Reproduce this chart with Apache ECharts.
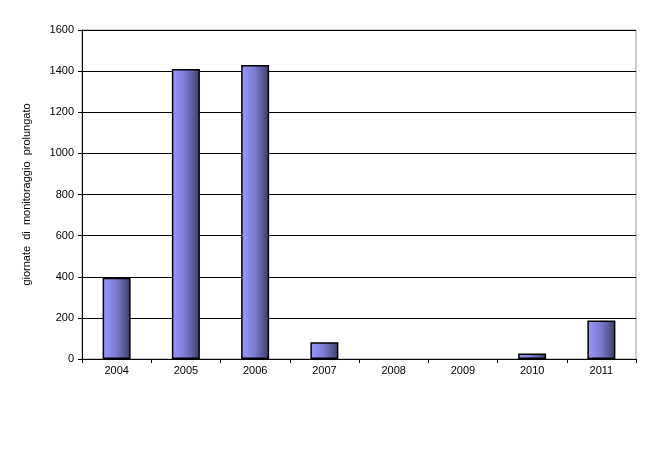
<!DOCTYPE html>
<html><head><meta charset="utf-8">
<script src="https://cdn.jsdelivr.net/npm/echarts@6/dist/echarts.min.js"></script>
<style>html,body{margin:0;padding:0;background:#fff}#c{width:650px;height:453px}</style>
</head><body><div id="c"></div>
<script>
var categories = ['2004','2005','2006','2007','2008','2009','2010','2011'];
var values = [395, 1410, 1430, 82, 0, 0, 27, 187];
var yTicks = {min: 0, max: 1600, interval: 200};
var yName = 'giornate  di  monitoraggio  prolungato';

var chart = echarts.init(document.getElementById('c'), null, {renderer: 'canvas'});
chart.setOption({
  animation: false,
  backgroundColor: '#fff',
  grid: {left: 82, right: 14, top: 30, bottom: 94, show: true, borderColor: '#999', borderWidth: 1},
  xAxis: {
    type: 'category', data: categories,
    axisLine: {lineStyle: {color: '#000', width: 1}},
    axisTick: {show: true, length: 4, lineStyle: {color: '#000'}},
    axisLabel: {color: '#000', fontFamily: 'Liberation Sans', fontSize: 11, margin: 6}
  },
  yAxis: {
    type: 'value', min: yTicks.min, max: yTicks.max, interval: yTicks.interval,
    name: yName, nameLocation: 'middle', nameGap: 50, nameRotate: 90,
    nameTextStyle: {color: '#000', fontFamily: 'Liberation Sans', fontSize: 11},
    axisLine: {show: true, lineStyle: {color: '#000'}},
    axisTick: {show: true, length: 4, lineStyle: {color: '#000'}},
    axisLabel: {color: '#000', fontFamily: 'Liberation Sans', fontSize: 11, margin: 8,
      formatter: function (v) { return String(v); }},
    splitLine: {show: true, lineStyle: {color: '#000', width: 1}}
  },
  series: [{
    type: 'bar', barWidth: 28,
    data: values.map(function (v) { return v === 0 ? '-' : v; }),
    itemStyle: {
      color: new echarts.graphic.LinearGradient(0, 0, 1, 0, [
        {offset: 0, color: '#9999ff'},
        {offset: 0.5, color: '#7a7acc'},
        {offset: 1, color: '#3c3c66'}
      ]),
      borderColor: '#000', borderWidth: 1.5
    }
  }]
});
</script></body></html>
